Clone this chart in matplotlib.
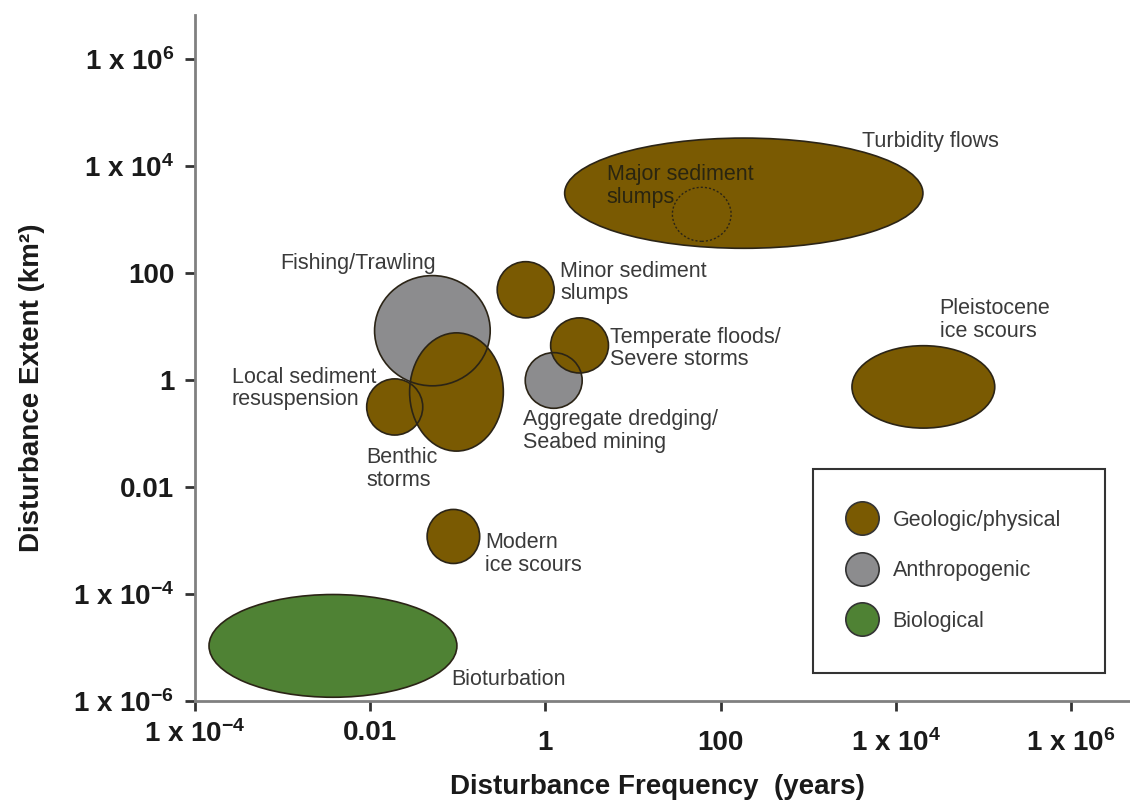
import matplotlib
matplotlib.use("Agg")
import matplotlib.pyplot as plt
from matplotlib.patches import Ellipse, Rectangle
from matplotlib.lines import Line2D

plt.rcParams['font.family'] = ['Liberation Sans', 'DejaVu Sans']
plt.rcParams['mathtext.fontset'] = 'custom'
plt.rcParams['mathtext.rm'] = 'Liberation Sans'
plt.rcParams['mathtext.bf'] = 'Liberation Sans:bold'
plt.rcParams['mathtext.default'] = 'bf'

# disturbance types, ranges as log10 values (frequency in years, extent in km2)
names = ["Fishing/Trawling", "Aggregate dredging/Seabed mining", "Bioturbation",
         "Turbidity flows", "Benthic storms", "Local sediment resuspension",
         "Minor sediment slumps", "Temperate floods/Severe storms",
         "Pleistocene ice scours", "Modern ice scours"]
groups = ["anthro", "anthro", "bio", "geo", "geo", "geo", "geo", "geo", "geo", "geo"]
freq_lo = [-1.95, -0.23, -3.84, 0.22, -1.55, -2.04, -0.55, 0.06, 3.50, -1.35]
freq_hi = [-0.63, 0.42, -1.01, 4.31, -0.48, -1.40, 0.10, 0.72, 5.13, -0.75]
ext_lo = [-0.11, -0.53, -5.93, 2.46, -1.33, -1.03, 1.16, 0.13, -0.90, -3.43]
ext_hi = [1.95, 0.51, -4.01, 4.52, 0.88, 0.02, 2.21, 1.16, 0.64, -2.42]

# major sediment slumps, shown as a dotted outline inside turbidity flows
slump_freq = [1.45, 2.12]
slump_ext = [2.59, 3.60]

tick_exp = [-4, -2, 0, 2, 4, 6]
x_ticklabels = ["1 x 10$^{-4}$", "0.01", "1", "100", "1 x 10$^{4}$", "1 x 10$^{6}$"]
y_tick_exp = [-6, -4, -2, 0, 2, 4, 6]
y_ticklabels = ["1 x 10$^{-6}$", "1 x 10$^{-4}$", "0.01", "1", "100", "1 x 10$^{4}$", "1 x 10$^{6}$"]

legend_labels = ["Geologic/physical", "Anthropogenic", "Biological"]
colors = {"geo": "#7a5a02", "anthro": "#8c8c8e", "bio": "#4f8234"}
edge = "#2b2416"

# label text and where it sits
label_text = ["Fishing/Trawling", "Aggregate dredging/\nSeabed mining", "Bioturbation",
              "Turbidity flows", "Benthic\nstorms", "Local sediment\nresuspension",
              "Minor sediment\nslumps", "Temperate floods/\nSevere storms",
              "Pleistocene\nice scours", "Modern\nice scours"]
label_pos = [(-3.03, 2.17), (-0.26, -0.95), (-1.08, -5.59), (3.61, 4.46), (-2.04, -1.66),
             (-3.58, -0.16), (0.17, 1.82), (0.74, 0.59), (4.50, 1.12), (-0.69, -3.25)]

fig = plt.figure(figsize=(11.3, 8.05), dpi=100)
ax = fig.add_axes([195 / 1130, 1 - 701 / 805, 935 / 1130, 686 / 805])
ax.set_xlim(-4, 6.674)
ax.set_ylim(-6, 6.82)

# fills first (grey under brown), outlines on top
order = [i for i in range(len(names)) if groups[i] == "anthro"] + \
        [i for i in range(len(names)) if groups[i] != "anthro"]
for i in order:
    cx = (freq_lo[i] + freq_hi[i]) / 2
    cy = (ext_lo[i] + ext_hi[i]) / 2
    ax.add_patch(Ellipse((cx, cy), freq_hi[i] - freq_lo[i], ext_hi[i] - ext_lo[i],
                         facecolor=colors[groups[i]], edgecolor="none", zorder=2))
for i in order:
    cx = (freq_lo[i] + freq_hi[i]) / 2
    cy = (ext_lo[i] + ext_hi[i]) / 2
    ax.add_patch(Ellipse((cx, cy), freq_hi[i] - freq_lo[i], ext_hi[i] - ext_lo[i],
                         fill=False, edgecolor=edge, lw=1.2, zorder=3))

ax.add_patch(Ellipse(((slump_freq[0] + slump_freq[1]) / 2, (slump_ext[0] + slump_ext[1]) / 2),
                     slump_freq[1] - slump_freq[0], slump_ext[1] - slump_ext[0],
                     fill=False, edgecolor=edge, lw=1.0, ls=(0, (1.5, 1.5)), zorder=4))
ax.text(0.70, 3.62, "Major sediment\nslumps", fontsize=15.5, color="#2a2510",
        va="center", ha="left", linespacing=1.1, zorder=5)

for txt, (px, py) in zip(label_text, label_pos):
    ax.text(px, py, txt, fontsize=15.5, color="#3a3a3a", va="center", ha="left",
            linespacing=1.1, zorder=5)

# axes styling
for s in ["top", "right"]:
    ax.spines[s].set_visible(False)
for s in ["left", "bottom"]:
    ax.spines[s].set_color("#808080")
    ax.spines[s].set_linewidth(2)

ax.set_xticks(tick_exp)
ax.set_xticklabels(x_ticklabels, fontsize=20, fontweight="bold", color="#1a1a1a")
ax.set_yticks(y_tick_exp)
ax.set_yticklabels(y_ticklabels, fontsize=20, fontweight="bold", color="#1a1a1a")
ax.tick_params(axis="both", direction="out", length=7, width=2, color="#333333")
ax.tick_params(axis="y", pad=8)
ax.tick_params(axis="x", pad=7)
# the original sets the larger values a little lower
for t, p in zip(ax.xaxis.get_major_ticks(), [7, 7, 14, 14, 13, 13]):
    t.set_pad(p)

fig.text(657 / 1130, 1 - 787 / 805, "Disturbance Frequency  (years)", fontsize=20,
         fontweight="bold", ha="center", va="center", color="#1a1a1a")
fig.text(32 / 1130, 1 - 388 / 805, "Disturbance Extent (km²)", fontsize=20,
         fontweight="bold", ha="center", va="center", rotation=90, color="#1a1a1a")

# legend with its own box
ax.add_patch(Rectangle((0.661, 0.0408), 0.3123, 0.2974, transform=ax.transAxes,
                       fill=True, facecolor="white", edgecolor="#333333", lw=1.5, zorder=6))
handles = [Line2D([], [], ls="none", marker="o", markersize=24,
                  markerfacecolor=colors[g], markeredgecolor="#333333", markeredgewidth=1.2)
           for g in ["geo", "anthro", "bio"]]
leg = ax.legend(handles, legend_labels, loc="upper left", bbox_to_anchor=(0.700, 0.279),
                frameon=False, fontsize=15.5, borderpad=0, borderaxespad=0,
                handlelength=1.2, handletextpad=0.8, labelspacing=1.38)
leg.set_zorder(7)
for t in leg.get_texts():
    t.set_color("#3a3a3a")

fig.savefig("out.png", dpi=100)
